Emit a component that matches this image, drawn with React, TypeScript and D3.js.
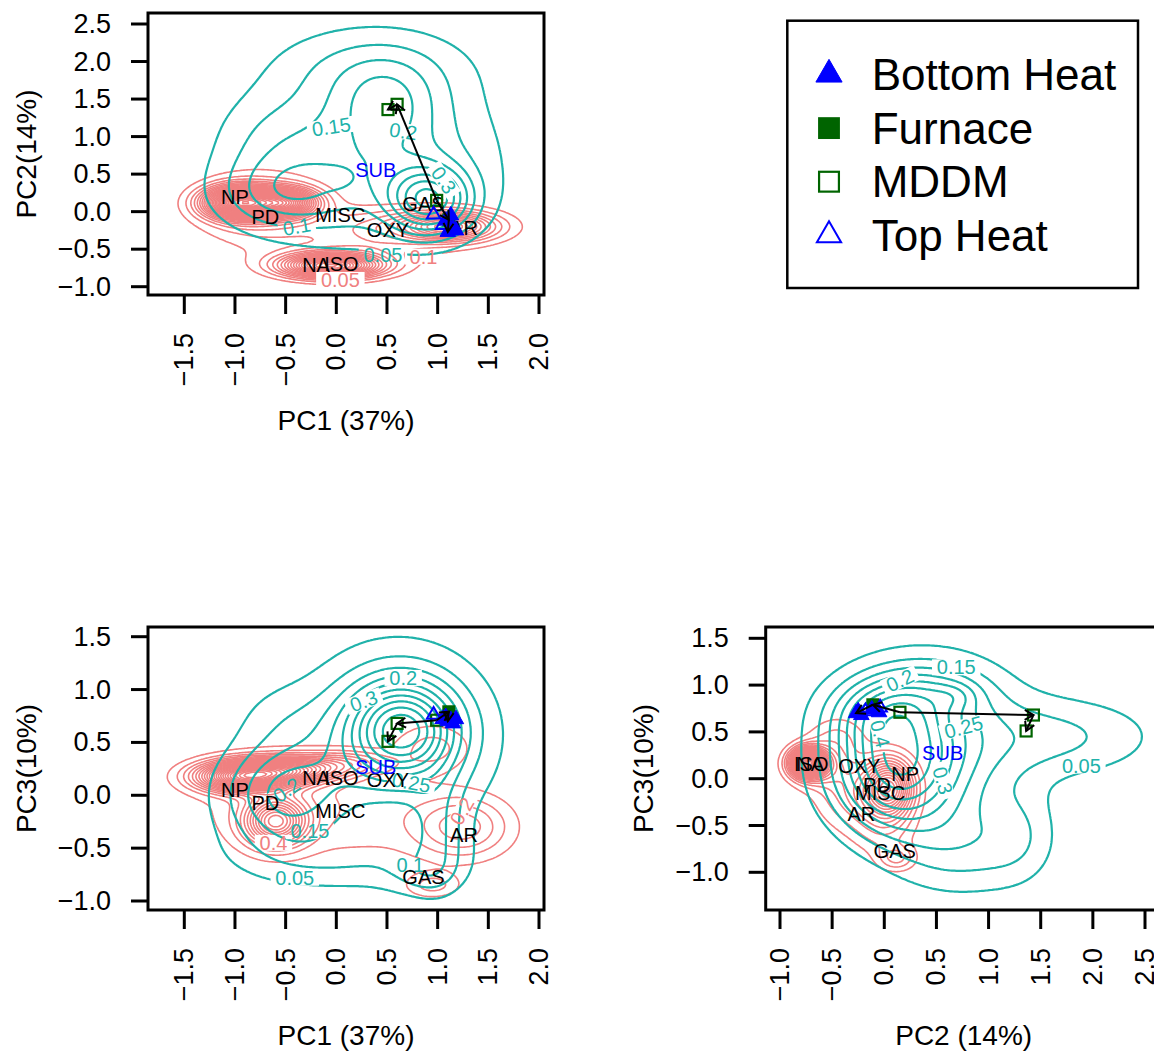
import React, { useMemo } from "react";
import * as d3 from "d3";

const FONT = "'Liberation Sans', Arial, Helvetica, sans-serif";
const TEAL = "#20B2AA";
const SALMON = "#F08080";
const BLUE = "#0000FF";
const DKGREEN = "#006400";

// ---------- samples (PC1, PC2, PC3) ----------
const BOTTOM_HEAT = [
  [1.10, -0.27, 0.70],
  [1.15, -0.22, 0.68],
  [1.18, -0.25, 0.72],
  [1.08, -0.12, 0.74],
  [1.13, -0.05, 0.71],
];
const FURNACE = [[1.11, -0.11, 0.79]];
const MDDM = [
  [0.99, 0.15, 0.71],
  [0.60, 1.43, 0.68],
  [0.51, 1.36, 0.51],
];
const TOP_HEAT = [
  [0.96, -0.04, 0.76],
  [1.05, -0.18, 0.72],
];
const ARROW_FROM = [
  [0.99, 0.15, 0.71],
  [0.60, 1.43, 0.68],
  [0.99, 0.15, 0.71],
  [1.11, -0.11, 0.79],
];
const ARROW_TO = [
  [0.60, 1.43, 0.68],
  [0.51, 1.36, 0.51],
  [1.11, -0.11, 0.79],
  [1.10, -0.27, 0.70],
];

// ---------- category labels ----------
const CAT_NAMES = ["NP", "PD", "MISC", "OXY", "GAS", "AR", "NA", "ISO", "SUB"];
const CAT_PC1 = [-1.0, -0.7, 0.04, 0.51, 0.86, 1.26, -0.2, 0.05, 0.39];
const CAT_PC2 = [0.2, -0.07, -0.04, -0.24, 0.1, -0.22, -0.71, -0.7, 0.56];
const CAT_PC3 = [0.05, -0.07, -0.15, 0.14, -0.77, -0.38, 0.16, 0.16, 0.27];

// ---------- ticks ----------
const PC1_TICKS = [-1.5, -1, -0.5, 0, 0.5, 1, 1.5, 2];
const PC2_TICKS_Y = [-1, -0.5, 0, 0.5, 1, 1.5, 2, 2.5];
const PC2_TICKS_X = [-1, -0.5, 0, 0.5, 1, 1.5, 2, 2.5];
const PC3_TICKS = [-1, -0.5, 0, 0.5, 1, 1.5];

// ---------- density mixtures: [cx, cy, sx, sy, peak] ----------
const TEAL_P1 = [
  [0.92, 0.15, 0.28, 0.3, 0.32],
  [0.35, 0.7, 0.8, 0.75, 0.17],
  [-0.55, 0.25, 0.45, 0.35, 0.12],
  [0.5, 1.45, 0.35, 0.4, 0.1],
  [0.35, 1.95, 0.7, 0.4, 0.08],
  [-0.65, 1.0, 0.4, 0.4, 0.045],
  [0.0, 0.42, 0.1, 0.08, 0.02],
];
const RED_P1 = [
  [-0.95, 0.12, 0.22, 0.13, 1.2],
  [-0.5, 0.12, 0.2, 0.12, 0.8],
  [-0.75, 0.05, 0.4, 0.3, 0.2],
  [-0.05, -0.72, 0.3, 0.1, 0.9],
  [0.0, -0.65, 0.5, 0.15, 0.12],
  [1.1, -0.2, 0.3, 0.12, 0.5],
  [1.0, -0.2, 0.5, 0.2, 0.1],
  [0.35, -0.25, 0.45, 0.2, 0.12],
];
const TEAL_P3 = [
  [0.65, 0.62, 0.35, 0.3, 0.35],
  [0.6, 0.55, 0.6, 0.55, 0.2],
  [-0.5, 0.0, 0.45, 0.35, 0.2],
  [1.0, -0.35, 0.18, 0.35, 0.1],
  [0.1, -0.6, 0.8, 0.22, 0.08],
  [0.85, -0.75, 0.25, 0.15, 0.06],
  [-0.55, 0.75, 0.35, 0.25, 0.04],
];
const RED_P3 = [
  [-0.9, 0.18, 0.3, 0.09, 1.0],
  [-0.45, 0.24, 0.3, 0.08, 0.55],
  [0.1, 0.3, 0.3, 0.08, 0.2],
  [-0.6, -0.25, 0.2, 0.15, 0.6],
  [-0.5, -0.05, 0.6, 0.35, 0.1],
  [1.25, -0.3, 0.32, 0.2, 0.22],
  [0.95, -0.85, 0.18, 0.08, 0.12],
  [0.95, 0.45, 0.25, 0.15, 0.12],
  [0.5, -0.2, 0.5, 0.3, 0.05],
];
const TEAL_P4 = [
  [0.1, 0.1, 0.4, 0.45, 0.3],
  [0.0, 0.7, 0.35, 0.25, 0.15],
  [0.69, 0.89, 0.15, 0.1, 0.05],
  [0.4, 0.35, 0.6, 0.6, 0.18],
  [0.45, 0.95, 0.4, 0.22, 0.1],
  [1.7, 0.45, 0.65, 0.3, 0.1],
  [0.75, -0.75, 0.45, 0.35, 0.1],
  [1.3, -0.6, 0.25, 0.35, 0.06],
];
const RED_P4 = [
  [-0.73, 0.17, 0.1, 0.09, 1.2],
  [-0.65, 0.15, 0.18, 0.15, 0.25],
  [-0.45, 0.45, 0.18, 0.15, 0.1],
  [0.05, -0.1, 0.15, 0.2, 0.6],
  [-0.25, -0.15, 0.25, 0.25, 0.2],
  [0.12, -0.85, 0.12, 0.09, 0.15],
  [0.0, -0.55, 0.2, 0.2, 0.1],
];

const TEAL_LEVELS = d3.range(1, 13).map((k) => k * 0.05);
const RED_LEVELS = d3.range(1, 31).map((k) => k * 0.05);

// ---------- contour labels: text, x, y, angle(deg ccw), set ----------
const CL_P1 = [
  ["0.15", -0.05, 1.13, 8, "t"],
  ["0.2", 0.66, 1.07, -8, "t"],
  ["0.3", 1.06, 0.42, -55, "t"],
  ["0.1", -0.39, -0.2, 10, "t"],
  ["0.05", 0.46, -0.58, 0, "t"],
  ["0.05", 0.04, -0.91, 0, "r"],
  ["0.1", 0.86, -0.6, 0, "r"],
];
const CL_P3 = [
  ["0.2", 0.66, 1.11, 0, "t"],
  ["0.3", 0.27, 0.89, 20, "t"],
  ["0.25", 0.74, 0.12, -10, "t"],
  ["0.2", -0.49, 0.05, 35, "t"],
  ["0.15", -0.26, -0.34, 0, "t"],
  ["0.05", -0.41, -0.78, 0, "t"],
  ["0.1", 0.73, -0.66, 0, "t"],
  ["0.2", 1.24, -0.15, 60, "r"],
  ["0.4", -0.62, -0.45, 0, "r"],
];
const CL_P4 = [
  ["0.15", 0.69, 1.19, 0, "t"],
  ["0.2", 0.15, 1.05, 25, "t"],
  ["0.25", 0.76, 0.55, 15, "t"],
  ["0.4", -0.04, 0.48, -75, "t"],
  ["0.3", 0.56, -0.02, -75, "t"],
  ["0.05", 1.89, 0.14, 0, "t"],
];

const LEGEND_NAMES = ["Bottom Heat", "Furnace", "MDDM", "Top Heat"];

type Panel = {
  id: string;
  box: [number, number, number, number];
  x: d3.ScaleLinear<number, number>;
  y: d3.ScaleLinear<number, number>;
  xTicks: number[];
  yTicks: number[];
  xi: number;
  yi: number;
  xTitle: string;
  yTitle: string;
  teal: number[][];
  red: number[][];
  cl: any[][];
};

const PANELS: Panel[] = [
  {
    id: "p1",
    box: [148, 13, 544, 295],
    x: d3.scaleLinear().domain([-1.5, 2.0]).range([184.3, 539]),
    y: d3.scaleLinear().domain([-1, 2.5]).range([286.7, 24]),
    xTicks: PC1_TICKS,
    yTicks: PC2_TICKS_Y,
    xi: 0,
    yi: 1,
    xTitle: "PC1 (37%)",
    yTitle: "PC2(14%)",
    teal: TEAL_P1,
    red: RED_P1,
    cl: CL_P1,
  },
  {
    id: "p3",
    box: [148, 627, 544, 910],
    x: d3.scaleLinear().domain([-1.5, 2.0]).range([184.3, 539]),
    y: d3.scaleLinear().domain([-1, 1.5]).range([901, 636.7]),
    xTicks: PC1_TICKS,
    yTicks: PC3_TICKS,
    xi: 0,
    yi: 2,
    xTitle: "PC1 (37%)",
    yTitle: "PC3(10%)",
    teal: TEAL_P3,
    red: RED_P3,
    cl: CL_P3,
  },
  {
    id: "p4",
    box: [765.7, 627, 1161.7, 910],
    x: d3.scaleLinear().domain([-1, 2.5]).range([780, 1145]),
    y: d3.scaleLinear().domain([-1, 1.5]).range([872.3, 638.3]),
    xTicks: PC2_TICKS_X,
    yTicks: PC3_TICKS,
    xi: 1,
    yi: 2,
    xTitle: "PC2 (14%)",
    yTitle: "PC3(10%)",
    teal: TEAL_P4,
    red: RED_P4,
    cl: CL_P4,
  },
];

function mix(comps: number[][], x: number, y: number) {
  let s = 0;
  for (const [cx, cy, sx, sy, a] of comps) {
    const dx = (x - cx) / sx;
    const dy = (y - cy) / sy;
    s += a * Math.exp(-0.5 * (dx * dx + dy * dy));
  }
  return s;
}

function contourPaths(p: Panel, comps: number[][], levels: number[]) {
  const step = 1.5;
  const [bx0, by0, bx1, by1] = p.box;
  const x0 = bx0 - 6;
  const y0 = by0 - 6;
  const nx = Math.ceil((bx1 - bx0 + 12) / step) + 1;
  const ny = Math.ceil((by1 - by0 + 12) / step) + 1;
  const values: number[] = new Array(nx * ny);
  for (let j = 0; j < ny; j++) {
    const dy = p.y.invert(y0 + j * step);
    for (let i = 0; i < nx; i++) {
      values[j * nx + i] = mix(comps, p.x.invert(x0 + i * step), dy);
    }
  }
  const cs = d3.contours().size([nx, ny]).thresholds(levels)(values);
  return cs.map((c) => ({
    value: c.value,
    d: c.coordinates
      .map((poly) =>
        poly
          .map(
            (ring) =>
              "M" +
              ring
                .map(
                  ([a, b]) =>
                    `${(x0 + (a - 0.5) * step).toFixed(1)},${(y0 + (b - 0.5) * step).toFixed(1)}`
                )
                .join("L") +
              "Z"
          )
          .join("")
      )
      .join(""),
  }));
}

const fmt = (v: number) => d3.format(".1f")(v).replace("-", "\u2212");

function triPath(cx: number, cy: number, half: number) {
  const r = (half / 1.3468) * 1.5551;
  const yc = r / 2;
  return `M${cx},${cy - r}L${cx + half},${cy + yc}L${cx - half},${cy + yc}Z`;
}

function Marker({ kind, x, y, scale = 1 }: { kind: number; x: number; y: number; scale?: number }) {
  const sq = 13 * scale;
  const half = 7.8 * scale;
  if (kind === 0)
    return <path d={triPath(x, y, half)} fill={BLUE} stroke={BLUE} strokeWidth={1} />;
  if (kind === 1)
    return <rect x={x - sq / 2} y={y - sq / 2} width={sq} height={sq} fill={DKGREEN} />;
  if (kind === 2)
    return (
      <rect
        x={x - sq / 2 + 1}
        y={y - sq / 2 + 1}
        width={sq - 2}
        height={sq - 2}
        fill="none"
        stroke={DKGREEN}
        strokeWidth={2.2}
      />
    );
  return <path d={triPath(x, y, half - 1)} fill="none" stroke={BLUE} strokeWidth={2} />;
}

function PanelView({ p }: { p: Panel }) {
  const [bx0, by0, bx1, by1] = p.box;
  const teal = useMemo(() => contourPaths(p, p.teal, TEAL_LEVELS), [p]);
  const red = useMemo(() => contourPaths(p, p.red, RED_LEVELS), [p]);
  const px = (pt: number[]) => p.x(pt[p.xi]);
  const py = (pt: number[]) => p.y(pt[p.yi]);
  const cats = CAT_NAMES.map((n, i) => [n, [CAT_PC1[i], CAT_PC2[i], CAT_PC3[i]]] as [string, number[]]);
  const clFs = 20;
  const maskRects = (set: string) =>
    p.cl
      .filter((c) => c[4] === set)
      .map((c, i) => {
        const w = c[0].length * 0.556 * clFs + 4;
        const h = clFs * 0.8;
        return (
          <rect
            key={i}
            x={-w / 2}
            y={-h / 2}
            width={w}
            height={h}
            fill="black"
            transform={`translate(${p.x(c[1])},${p.y(c[2])}) rotate(${-c[3]})`}
          />
        );
      });
  const groups: [number, number[][]][] = [
    [1, FURNACE],
    [2, MDDM],
    [3, TOP_HEAT],
    [0, BOTTOM_HEAT],
  ];
  const arrows = ARROW_FROM.map((f, i) => {
    const t = ARROW_TO[i];
    const x1 = px(f), y1 = py(f), x2 = px(t), y2 = py(t);
    const ang = Math.atan2(y2 - y1, x2 - x1);
    const L = 10;
    const a1 = ang + Math.PI - Math.PI / 6;
    const a2 = ang + Math.PI + Math.PI / 6;
    return (
      <g key={i} stroke="black" strokeWidth={2} fill="none">
        <line x1={x1} y1={y1} x2={x2} y2={y2} />
        <path
          d={`M${x2 + L * Math.cos(a1)},${y2 + L * Math.sin(a1)}L${x2},${y2}L${x2 + L * Math.cos(a2)},${y2 + L * Math.sin(a2)}`}
        />
      </g>
    );
  });
  return (
    <g>
      <defs>
        <clipPath id={`clip-${p.id}`}>
          <rect x={bx0} y={by0} width={bx1 - bx0} height={by1 - by0} />
        </clipPath>
        <mask id={`mt-${p.id}`} maskUnits="userSpaceOnUse" x={0} y={0} width={1200} height={1100}>
          <rect x={0} y={0} width={1200} height={1100} fill="white" />
          {maskRects("t")}
        </mask>
        <mask id={`mr-${p.id}`} maskUnits="userSpaceOnUse" x={0} y={0} width={1200} height={1100}>
          <rect x={0} y={0} width={1200} height={1100} fill="white" />
          {maskRects("r")}
        </mask>
      </defs>
      <g clipPath={`url(#clip-${p.id})`}>
        <g mask={`url(#mr-${p.id})`}>
          {red.map((c, i) => (
            <path key={i} d={c.d} fill="none" stroke={SALMON} strokeWidth={1.6} />
          ))}
        </g>
        <g mask={`url(#mt-${p.id})`}>
          {teal.map((c, i) => (
            <path key={i} d={c.d} fill="none" stroke={TEAL} strokeWidth={2.2} />
          ))}
        </g>
        {p.cl.map((c, i) => (
          <text
            key={i}
            transform={`translate(${p.x(c[1])},${p.y(c[2])}) rotate(${-c[3]})`}
            textAnchor="middle"
            dominantBaseline="central"
            fontSize={clFs}
            fontFamily={FONT}
            fill={c[4] === "t" ? TEAL : SALMON}
          >
            {c[0]}
          </text>
        ))}
        {cats.map(([n, pt], i) => (
          <text
            key={i}
            x={px(pt)}
            y={py(pt)}
            textAnchor="middle"
            dominantBaseline="central"
            fontSize={20}
            fontFamily={FONT}
            fill={n === "SUB" ? BLUE : "black"}
          >
            {n}
          </text>
        ))}
        {groups.map(([k, pts]) =>
          pts.map((pt, i) => <Marker key={`${k}-${i}`} kind={k} x={px(pt)} y={py(pt)} />)
        )}
        {arrows}
      </g>
      <rect x={bx0} y={by0} width={bx1 - bx0} height={by1 - by0} fill="none" stroke="black" strokeWidth={3} />
      {p.xTicks.map((t) => (
        <g key={`x${t}`}>
          <line x1={p.x(t)} x2={p.x(t)} y1={by1} y2={by1 + 19} stroke="black" strokeWidth={3} />
          <text
            transform={`translate(${p.x(t)},${by1 + 38}) rotate(-90)`}
            textAnchor="end"
            dominantBaseline="central"
            fontSize={27}
            fontFamily={FONT}
          >
            {fmt(t)}
          </text>
        </g>
      ))}
      {p.yTicks.map((t) => (
        <g key={`y${t}`}>
          <line x1={bx0 - 17} x2={bx0} y1={p.y(t)} y2={p.y(t)} stroke="black" strokeWidth={3} />
          <text
            x={bx0 - 37}
            y={p.y(t)}
            textAnchor="end"
            dominantBaseline="central"
            fontSize={27}
            fontFamily={FONT}
          >
            {fmt(t)}
          </text>
        </g>
      ))}
      <text
        x={(bx0 + bx1) / 2}
        y={by1 + 135}
        textAnchor="middle"
        fontSize={28}
        fontFamily={FONT}
      >
        {p.xTitle}
      </text>
      <text
        transform={`translate(${bx0 - 122},${(by0 + by1) / 2}) rotate(-90)`}
        textAnchor="middle"
        dominantBaseline="central"
        fontSize={28}
        fontFamily={FONT}
      >
        {p.yTitle}
      </text>
    </g>
  );
}

function Legend() {
  const x0 = 787.3, y0 = 20.7, x1 = 1138, y1 = 288;
  return (
    <g>
      <rect x={x0} y={y0} width={x1 - x0} height={y1 - y0} fill="white" stroke="black" strokeWidth={2.5} />
      {LEGEND_NAMES.map((n, i) => {
        const cy = 74.5 + i * 53.6;
        return (
          <g key={n}>
            <Marker kind={i} x={829} y={cy} scale={1.68} />
            <text x={871.7} y={cy + 15.5} fontSize={44} fontFamily={FONT}>
              {n}
            </text>
          </g>
        );
      })}
    </g>
  );
}

export default function App() {
  return (
    <svg
      width={1154}
      height={1055}
      style={{ position: "absolute", left: 0, top: 0, background: "white" }}
    >
      <rect x={0} y={0} width={1154} height={1055} fill="white" />
      {PANELS.map((p) => (
        <PanelView key={p.id} p={p} />
      ))}
      <Legend />
    </svg>
  );
}
